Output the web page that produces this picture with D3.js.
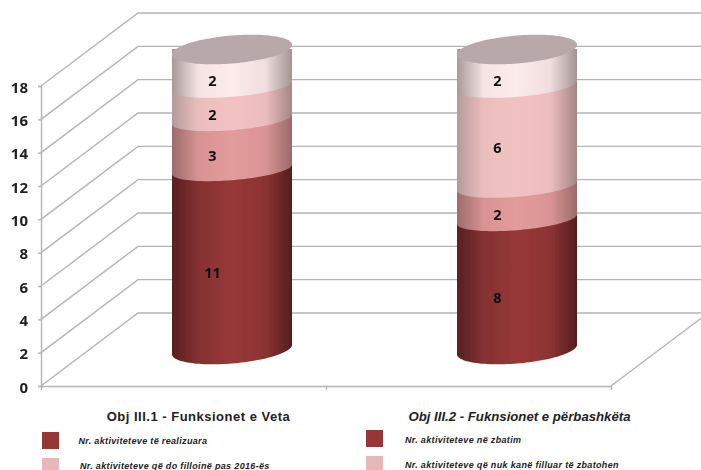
<!DOCTYPE html>
<html><head><meta charset="utf-8">
<script src="https://cdnjs.cloudflare.com/ajax/libs/d3/7.8.5/d3.min.js"></script>
<style>html,body{margin:0;padding:0;background:#fff;overflow:hidden}svg{display:block}</style>
</head><body><svg id="c" width="701" height="470"></svg>
<script>
const categories = ["Obj III.1 - Funksionet e Veta", "Obj III.2 - Fuknsionet e përbashkëta"];
const seriesA = [11, 8];
const seriesB = [3, 2];
const seriesC = [2, 6];
const seriesD = [2, 2];
const yTicks = [0, 2, 4, 6, 8, 10, 12, 14, 16, 18];
const legendLabels = [
  "Nr. aktiviteteve të realizuara", "Nr. aktiviteteve në zbatim",
  "Nr. aktiviteteve që do filloinë pas 2016-ës", "Nr. aktiviteteve që nuk kanë filluar të zbatohen"
];
const stops = [
  ["#572020", "#843131", "#983838", "#8c3333", "#541e1e"],
  ["#9c6c6c", "#d89292", "#e39c9c", "#da9494", "#9a6a6a"],
  ["#b59a9a", "#ebbebe", "#f2c2c3", "#ecbdbd", "#a58585"],
  ["#a89a9a", "#f6e3e3", "#fdecec", "#f0dddd", "#a39494"]
];
const stopAt = [0, 0.22, 0.5, 0.78, 1];
const W = 701, H = 470;
const svg = d3.select("#c");
const left = 41, right = 611, bottom = 386, top18 = 86, dx = 97, dy = 73;
const y = d3.scaleLinear().domain([0, 18]).range([bottom, top18]);
const x = d3.scaleBand().domain(categories).range([left, right]);
const edge = d3.scaleLinear().domain([0, 2]).range([left, right]);
const grid = "#b4b4b4";

const defs = svg.append("defs");
defs.append("filter").attr("id", "soft").append("feGaussianBlur").attr("stdDeviation", 0.45);
stops.forEach((s, i) => {
  const g = defs.append("linearGradient").attr("id", "g" + i);
  s.forEach((c, k) => g.append("stop").attr("offset", stopAt[k]).attr("stop-color", c));
});

const root = svg.append("g").attr("filter", "url(#soft)");
// walls & floor
const gridG = root.append("g").attr("fill", "none").attr("stroke", grid).attr("stroke-width", 1.4);
gridG.selectAll("path").data(yTicks).join("path")
  .attr("d", v => d3.line()([[left, y(v)], [left + dx, y(v) - dy], [W + 10, y(v) - dy]]));
gridG.append("path").attr("d", d3.line()([[right, bottom], [right + dx, bottom - dy]]));

// axes
const ya = root.append("g").attr("transform", `translate(${left},0)`)
  .call(d3.axisLeft(y).tickValues(yTicks).tickSize(3).tickPadding(10));
ya.selectAll("path,line").attr("stroke", grid).attr("stroke-width", 1.4);
ya.selectAll("text").attr("font-family", "'Open Sans'").attr("font-weight", 700).attr("font-size", 15).attr("fill", "#222").attr("dy", "0.42em");
const xa = root.append("g").attr("transform", `translate(0,${bottom})`)
  .call(d3.axisBottom(edge).tickValues([0, 1, 2]).tickSize(4).tickSizeOuter(0).tickFormat(""));
xa.selectAll("path,line").attr("stroke", grid).attr("stroke-width", 1.4);

// cylinders
const r = 60, slope = 0.08, ryEnd = 14, ryIn = 11, inShift = 3;
const pt = (cx, cy, ry, t) => [cx + r * Math.cos(t), cy + ry * Math.sin(t) - slope * r * Math.cos(t)];
const ts = d3.range(0, 61).map(i => Math.PI - i / 60 * Math.PI);
const all = [seriesA, seriesB, seriesC, seriesD];
const line = d3.line();
categories.forEach((c, ci) => {
  const cx = x(c) + x.bandwidth() / 2 + dx / 2;
  const off = -dy / 2;
  const total = d3.sum(all, s => s[ci]);
  const topY = y(total) + off;
  let base = 0;
  all.forEach((s, si) => {
    const v = s[ci];
    const cy = y(base) + off + (si ? inShift : 0);
    const ry = si ? ryIn : ryEnd;
    const pts = ts.map(t => pt(cx, cy, ry, t)).concat([[cx + r, topY], [cx - r, topY]]);
    root.append("path").attr("d", line(pts) + "Z").attr("fill", `url(#g${si})`);
    base += v;
  });
  const tsFull = d3.range(0, 121).map(i => i / 120 * 2 * Math.PI);
  root.append("path").attr("d", line(tsFull.map(t => pt(cx, topY, ryEnd, t))) + "Z").attr("fill", "#b9a8a9");
  // data labels
  base = 0;
  all.forEach(s => {
    const v = s[ci];
    root.append("text").text(v)
      .attr("x", cx - 19.5).attr("y", y(base + v / 2) + off + 15).attr("dy", "0.36em")
      .attr("text-anchor", "middle").attr("font-family", "'Open Sans'").attr("font-weight", 700)
      .attr("font-size", 14.5).attr("fill", "#111");
    base += v;
  });
});

// category labels
const catPos = [198.5, 519.5];
const catSize = [13, 13.2];
const catSpacing = [0.5, 0];
svg.selectAll("text.cat").data(categories).join("text").attr("class", "cat")
  .text(d => d).attr("x", (d, i) => catPos[i]).attr("y", 421).attr("text-anchor", "middle")
  .attr("font-family", "'Liberation Sans'").attr("font-weight", 700)
  .attr("font-style", (d, i) => i ? "italic" : "normal")
  .attr("letter-spacing", (d, i) => catSpacing[i])
  .attr("font-size", (d, i) => catSize[i]).attr("fill", "#222");

// legend
const swatch = [[42, 432], [366, 430], [42, 458], [366, 456]];
const textPos = [[78.5, 444], [405, 443], [80, 469], [405, 468]];
const swCol = ["#963637", "#963637", "#e8b8b9", "#e8b8b9"];
svg.selectAll("rect.sw").data(legendLabels).join("rect").attr("class", "sw")
  .attr("x", (d, i) => swatch[i][0]).attr("y", (d, i) => swatch[i][1])
  .attr("width", 17).attr("height", 17).attr("fill", (d, i) => swCol[i]);
svg.selectAll("text.lg").data(legendLabels).join("text").attr("class", "lg")
  .text(d => d).attr("x", (d, i) => textPos[i][0]).attr("y", (d, i) => textPos[i][1])
  .attr("font-family", "'Liberation Sans'").attr("font-weight", 700).attr("font-style", "italic")
  .attr("font-size", 9).attr("letter-spacing", 0.34).attr("fill", "#222");
</script></body></html>
